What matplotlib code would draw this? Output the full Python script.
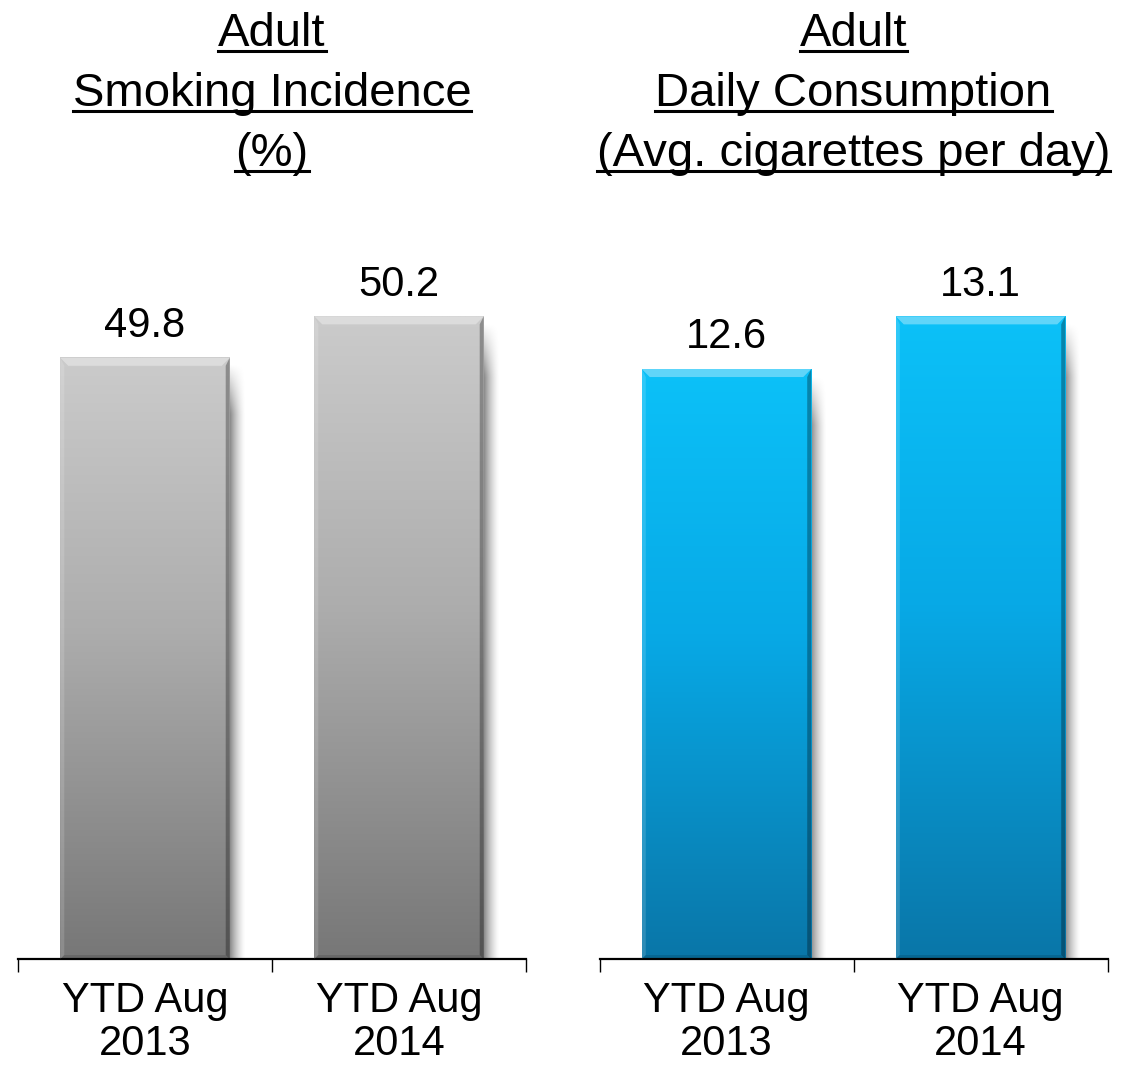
import numpy as np
import matplotlib.pyplot as plt
from matplotlib.colors import LinearSegmentedColormap
from matplotlib.patches import Polygon
from matplotlib.lines import Line2D

plt.rcParams['font.family'] = ['Liberation Sans', 'DejaVu Sans']

periods = ["YTD Aug\n2013", "YTD Aug\n2014"]
incidence = [49.8, 50.2]
consumption = [12.6, 13.1]
incidence_title = ["Adult", "Smoking Incidence", "(%)"]
consumption_title = ["Adult", "Daily Consumption", "(Avg. cigarettes per day)"]

W, H = 1140, 1065
BASE_PX = 959      # axis line, pixels from top
TOP_PX = 250       # top of plotting area
BAR_W = 0.667

GREY = ["#cbcbcb", "#adadad", "#777777"]
BLUE = ["#0cc1f8", "#07a9e6", "#0a76a8"]


def fancy_bars(ax, values, stops, ylim):
    ax.set_xlim(-0.5, 1.5)
    ax.set_ylim(*ylim)
    bb = ax.get_window_extent()
    px_x = 2.0 / bb.width
    px_y = (ylim[1] - ylim[0]) / bb.height
    y0 = ylim[0]
    cmap = LinearSegmentedColormap.from_list("bar", [(0, stops[0]), (0.45, stops[1]), (1, stops[2])])
    grad = np.linspace(0, 1, 256).reshape(-1, 1)

    for i, v in enumerate(values):
        x0, x1 = i - BAR_W / 2, i + BAR_W / 2

        # soft drop shadow on the right
        sw = 16
        hx = np.linspace(1, 0, 64) ** 1.5
        vy = np.clip(np.linspace(0, 1, 200) * 12, 0, 1)
        alpha = 0.55 * vy[:, None] * hx[None, :]
        shadow = np.zeros(alpha.shape + (4,))
        shadow[..., 3] = alpha
        ax.imshow(shadow, extent=(x1 - 2 * px_x, x1 + sw * px_x, y0, v - 6 * px_y),
                  origin="upper", aspect="auto", interpolation="bilinear", zorder=1)

        # body gradient
        ax.imshow(grad, cmap=cmap, extent=(x0, x1, y0, v), origin="upper",
                  aspect="auto", interpolation="bilinear", zorder=2)

        # bevels
        b = 8
        s = 4
        ax.add_patch(Polygon([(x0, v), (x1, v), (x1 - b * px_x, v - b * px_y), (x0 + b * px_x, v - b * px_y)],
                             closed=True, facecolor="white", alpha=0.35, lw=0, zorder=3))
        ax.add_patch(Polygon([(x1, v), (x1, y0), (x1 - s * px_x, y0 + s * px_y), (x1 - s * px_x, v - b * px_y)],
                             closed=True, facecolor="black", alpha=0.3, lw=0, zorder=3))
        ax.add_patch(Polygon([(x0, v), (x0 + s * px_x, v - b * px_y), (x0 + s * px_x, y0 + s * px_y), (x0, y0)],
                             closed=True, facecolor="white", alpha=0.15, lw=0, zorder=3))
        ax.add_patch(Polygon([(x0, y0), (x1, y0), (x1 - s * px_x, y0 + s * px_y), (x0 + s * px_x, y0 + s * px_y)],
                             closed=True, facecolor="black", alpha=0.12, lw=0, zorder=3))

        ax.annotate(f"{v:.1f}", (i, v), xytext=(0, 15), textcoords="offset points",
                    ha="center", va="baseline", fontsize=30)

    ax.set_xlim(-0.5, 1.5)
    ax.set_ylim(*ylim)
    ax.set_xticks([0, 1])
    ax.set_xticklabels(periods, fontsize=30, linespacing=1.1)
    ax.set_xticks([-0.5, 0.5, 1.5], minor=True)
    ax.tick_params(axis="x", which="major", length=0, pad=16)
    ax.tick_params(axis="x", which="minor", length=9, width=1, color="black", direction="out")
    ax.set_yticks([])
    for side in ("left", "right", "top"):
        ax.spines[side].set_visible(False)
    ax.spines["bottom"].set_linewidth(1.6)
    ax.spines["bottom"].set_color("black")


fig = plt.figure(figsize=(W / 100, H / 100), dpi=100)
ax_h = (BASE_PX - TOP_PX) / H
ax1 = fig.add_axes([18 / W, (H - BASE_PX) / H, 508 / W, ax_h])
ax2 = fig.add_axes([599.5 / W, (H - BASE_PX) / H, 508 / W, ax_h])

fancy_bars(ax1, incidence, GREY, (44, 50.84))
fancy_bars(ax2, consumption, BLUE, (7, 13.73))

# underlined panel headings
headings = []
for lines, cx in ((incidence_title, 272), (consumption_title, 853.5)):
    for k, line in enumerate(lines):
        base = 46 + 60 * k
        t = fig.text(cx / W, 1 - base / H, line, ha="center", va="baseline", fontsize=34)
        headings.append((t, base))

fig.canvas.draw()
renderer = fig.canvas.get_renderer()
for t, base in headings:
    ext = t.get_window_extent(renderer)
    uy = 1 - (base + 5) / H
    fig.add_artist(Line2D([ext.x0 / W, ext.x1 / W], [uy, uy], transform=fig.transFigure,
                          color="black", lw=2.2))

fig.savefig("out.png", dpi=100)
